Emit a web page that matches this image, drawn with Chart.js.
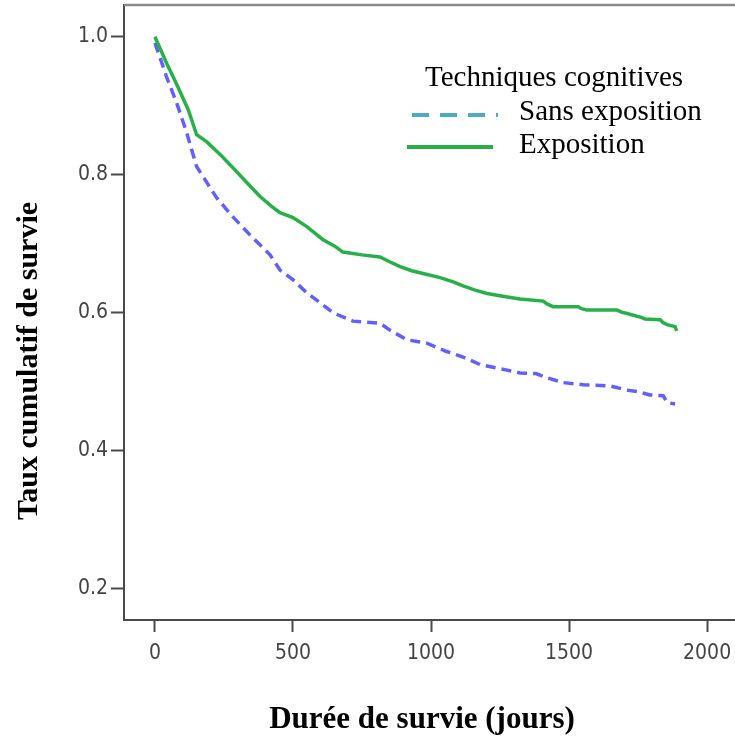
<!DOCTYPE html>
<html>
<head>
<meta charset="utf-8">
<script src="https://cdn.jsdelivr.net/npm/chart.js@4.4.1/dist/chart.umd.min.js"></script>
<style>
    html, body { margin: 0; padding: 0; background: #fff; }
    #wrap { width: 735px; height: 738px; position: relative; }
</style>
</head>
<body>
<div id="wrap"><canvas id="survie"></canvas></div>
<script>
// Data (jours, taux cumulatif)
var expoDays = [0, 20, 42, 80, 121, 151, 187, 240, 283, 330, 380, 420, 453, 500, 550, 609, 650, 681, 750, 815, 850, 888, 930, 971, 1033, 1080, 1116, 1160, 1203, 1260, 1322, 1406, 1420, 1442, 1533, 1545, 1565, 1674, 1690, 1710, 1764, 1775, 1830, 1840, 1855, 1884, 1890];
var expoSurv = [1.0, 0.982, 0.962, 0.93, 0.894, 0.858, 0.848, 0.828, 0.81, 0.79, 0.769, 0.755, 0.745, 0.738, 0.725, 0.706, 0.697, 0.688, 0.684, 0.681, 0.674, 0.667, 0.661, 0.657, 0.651, 0.645, 0.639, 0.633, 0.628, 0.624, 0.62, 0.617, 0.613, 0.609, 0.609, 0.606, 0.604, 0.604, 0.601, 0.599, 0.593, 0.591, 0.59, 0.586, 0.583, 0.58, 0.574];

var sansDays = [0, 20, 42, 79, 115, 151, 223, 280, 344, 417, 453, 500, 550, 600, 646, 717, 780, 815, 851, 912, 985, 1057, 1116, 1178, 1275, 1322, 1380, 1420, 1478, 1551, 1649, 1690, 1710, 1746, 1793, 1841, 1855, 1884];
var sansSurv = [0.991, 0.968, 0.942, 0.904, 0.861, 0.812, 0.767, 0.74, 0.713, 0.684, 0.662, 0.648, 0.629, 0.614, 0.6, 0.588, 0.586, 0.585, 0.575, 0.561, 0.556, 0.544, 0.536, 0.525, 0.517, 0.513, 0.512, 0.506, 0.499, 0.496, 0.494, 0.49, 0.488, 0.486, 0.481, 0.48, 0.47, 0.468];

var xTicks = [0, 500, 1000, 1500, 2000];
var yTicks = [0.2, 0.4, 0.6, 0.8, 1.0];

var legendTitle = "Techniques cognitives";
var seriesNames = ["Sans exposition", "Exposition"];
var xTitle = "Durée de survie (jours)";
var yTitle = "Taux cumulatif de survie";

var green = "rgb(40,176,72)";
var blue = "rgb(96,96,255)";
var teal = "rgb(75,172,198)";
var axisGrey = "#4a4a4a";
var tickFont = { family: "'DejaVu Sans Condensed', 'Liberation Sans', sans-serif", size: 21 };

function toPoints(days, surv) {
    return days.map(function(d, i) { return { x: d, y: surv[i] }; });
}

// titles, legend and the top frame line
var extras = {
    id: "extras",
    afterDraw: function(chart) {
        var ctx = chart.ctx;
        var area = chart.chartArea;
        ctx.save();

        ctx.strokeStyle = "#8a8a8a";
        ctx.lineWidth = 2.5;
        ctx.beginPath();
        ctx.moveTo(area.left, area.top);
        ctx.lineTo(area.right, area.top);
        ctx.stroke();

        ctx.fillStyle = "#000";
        ctx.textBaseline = "alphabetic";
        ctx.font = "29px 'Liberation Serif', serif";
        ctx.textAlign = "left";
        ctx.fillText(legendTitle, 425, 86);
        ctx.fillText(seriesNames[0], 519, 120);
        ctx.fillText(seriesNames[1], 519, 153);

        ctx.lineWidth = 4;
        ctx.strokeStyle = teal;
        ctx.setLineDash([17, 11]);
        ctx.beginPath();
        ctx.moveTo(412, 115);
        ctx.lineTo(498, 115);
        ctx.stroke();
        ctx.setLineDash([]);
        ctx.strokeStyle = green;
        ctx.beginPath();
        ctx.moveTo(407, 147);
        ctx.lineTo(493, 147);
        ctx.stroke();

        ctx.font = "bold 31px 'Liberation Serif', serif";
        ctx.textAlign = "center";
        ctx.fillText(xTitle, 422, 728);

        ctx.font = "bold 30px 'Liberation Serif', serif";
        ctx.translate(37, 361);
        ctx.rotate(-Math.PI / 2);
        ctx.fillText(yTitle, 0, 0);
        ctx.restore();
    }
};

var survieChart = new Chart(document.getElementById("survie"), {
    type: "line",
    data: {
        datasets: [
            {
                label: seriesNames[1],
                data: toPoints(expoDays, expoSurv),
                borderColor: green,
                borderWidth: 3.5,
                pointRadius: 0,
                tension: 0,
                fill: false
            },
            {
                label: seriesNames[0],
                data: toPoints(sansDays, sansSurv),
                borderColor: blue,
                borderWidth: 3.5,
                borderDash: [10, 6],
                pointRadius: 0,
                tension: 0,
                fill: false
            }
        ]
    },
    options: {
        responsive: true,
        maintainAspectRatio: false,
        animation: false,
        layout: { padding: { top: 5, left: 0, right: 0, bottom: 0 } },
        plugins: {
            legend: { display: false },
            tooltip: { enabled: false }
        },
        scales: {
            x: {
                type: "linear",
                min: -112,
                max: 2101,
                afterBuildTicks: function(scale) {
                    scale.ticks = xTicks.map(function(v) { return { value: v }; });
                },
                afterFit: function(scale) {
                    scale.height = 118;
                    scale.paddingLeft = 0;
                    scale.paddingRight = 0;
                },
                ticks: {
                    font: tickFont,
                    color: "#444",
                    padding: 9,
                    maxRotation: 0,
                    callback: function(v) { return String(v); }
                },
                grid: {
                    drawOnChartArea: false,
                    tickLength: 12,
                    tickWidth: 2,
                    tickColor: axisGrey
                },
                border: { color: axisGrey, width: 2 }
            },
            y: {
                min: 0.155,
                max: 1.046,
                afterBuildTicks: function(scale) {
                    scale.ticks = yTicks.map(function(v) { return { value: v }; });
                },
                afterFit: function(scale) {
                    scale.width = 124;
                    scale.paddingTop = 0;
                    scale.paddingBottom = 0;
                },
                ticks: {
                    font: tickFont,
                    color: "#444",
                    padding: 3,
                    callback: function(v) { return v.toFixed(1); }
                },
                grid: {
                    drawOnChartArea: false,
                    tickLength: 13,
                    tickWidth: 2,
                    tickColor: axisGrey
                },
                border: { color: axisGrey, width: 2 }
            }
        }
    },
    plugins: [extras]
});
</script>
</body>
</html>
